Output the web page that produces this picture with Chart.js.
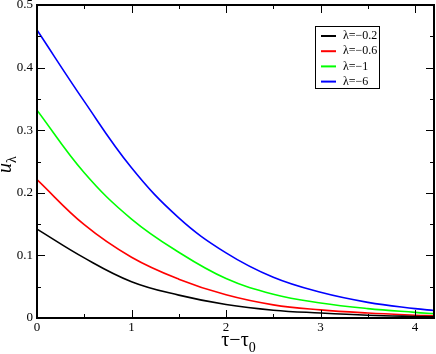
<!DOCTYPE html>
<html>
<head>
<meta charset="utf-8">
<script src="https://cdn.jsdelivr.net/npm/chart.js@4"></script>
<style>
  html, body { margin: 0; padding: 0; background: #fff; }
  #wrap { width: 436px; height: 354px; }
</style>
</head>
<body>
<div id="wrap"><canvas id="uChart" width="436" height="354"></canvas></div>
<script>
// values
const tValues = [0, 0.5, 1, 1.5, 2, 2.5, 3, 3.5, 4, 4.2];
const uLam02 = [0.142, 0.096, 0.058, 0.0365, 0.0215, 0.0125, 0.008, 0.0045, 0.0025, 0.002];
const uLam06 = [0.221, 0.149, 0.097, 0.062, 0.037, 0.021, 0.013, 0.008, 0.0045, 0.0035];
const uLam1 = [0.332, 0.232, 0.158, 0.105, 0.063, 0.038, 0.024, 0.015, 0.009, 0.007];
const uLam6 = [0.460, 0.346, 0.240, 0.160, 0.104, 0.065, 0.041, 0.025, 0.015, 0.012];
const seriesLabels = ['λ=−0.2', 'λ=−0.6', 'λ=−1', 'λ=−6'];
const seriesColors = ['#000000', '#ff0000', '#00ff00', '#0000ff'];
const xTicks = [0, 1, 2, 3, 4];
const yTicks = [0, 0.1, 0.2, 0.3, 0.4, 0.5];

const serif = '"Liberation Serif", "DejaVu Serif", serif';

function pts(ys) {
  return tValues.map((t, i) => ({ x: t, y: ys[i] }));
}

const seriesData = [uLam02, uLam06, uLam1, uLam6];

// frame, inward ticks (mirrored), legend box, axis titles
const decor = {
  id: 'decor',
  afterDraw(chart) {
    const c = chart.ctx;
    const a = chart.chartArea;
    const xs = chart.scales.x, ys = chart.scales.y;
    c.save();
    c.strokeStyle = '#000';
    c.lineWidth = 1;
    // x ticks: major every 1, minor every 0.5
    for (let v = 0; v <= 4.2 + 1e-9; v += 0.5) {
      const px = Math.round(xs.getPixelForValue(v)) + 0.5;
      const len = Math.abs(v - Math.round(v)) < 1e-9 ? 8 : 4;
      c.beginPath();
      c.moveTo(px, a.bottom); c.lineTo(px, a.bottom - len);
      c.moveTo(px, a.top); c.lineTo(px, a.top + len);
      c.stroke();
    }
    // y ticks: major every 0.1, minor every 0.05
    for (let k = 0; k <= 10; k++) {
      const v = k * 0.05;
      const py = Math.round(ys.getPixelForValue(v)) + 0.5;
      const len = k % 2 === 0 ? 8 : 4;
      c.beginPath();
      c.moveTo(a.left, py); c.lineTo(a.left + len, py);
      c.moveTo(a.right, py); c.lineTo(a.right - len, py);
      c.stroke();
    }
    // frame
    c.lineWidth = 2;
    c.strokeRect(a.left, a.top, a.right - a.left, a.bottom - a.top);

    // legend
    const lx = 315, ly = 26, lw = 64, lh = 62;
    c.lineWidth = 1;
    c.fillStyle = '#fff';
    c.fillRect(lx, ly, lw, lh);
    c.strokeStyle = '#000';
    c.strokeRect(lx + 0.5, ly + 0.5, lw, lh);
    c.font = '12px ' + serif;
    c.textBaseline = 'middle';
    c.textAlign = 'left';
    chart.data.datasets.forEach((ds, i) => {
      const yy = ly + 10 + i * 15.2;
      c.strokeStyle = ds.borderColor;
      c.lineWidth = 2;
      c.beginPath();
      c.moveTo(lx + 6, yy); c.lineTo(lx + 21, yy);
      c.stroke();
      c.fillStyle = '#000';
      c.fillText(ds.label, lx + 28, yy);
    });

    // x axis title: τ−τ0
    c.fillStyle = '#000';
    c.textBaseline = 'alphabetic';
    c.font = '20px ' + serif;
    const main = 'τ−τ';
    const mw = c.measureText(main).width;
    c.font = '14px ' + serif;
    const sw = c.measureText('0').width;
    const x0 = (a.left + a.right) / 2 + 3 - (mw + sw) / 2;
    c.font = '20px ' + serif;
    c.fillText(main, x0, 346);
    c.font = '14px ' + serif;
    c.fillText('0', x0 + mw, 352);

    // y axis title: u_λ
    c.translate(11, 173);
    c.rotate(-Math.PI / 2);
    c.font = 'italic 20px ' + serif;
    c.fillText('u', 0, 0);
    const uw = c.measureText('u').width;
    c.font = '14px ' + serif;
    c.fillText('λ', uw, 5);
    c.restore();
  }
};

const ctx = document.getElementById('uChart').getContext('2d');

const uChart = new Chart(ctx, {
  type: 'line',
  data: {
    datasets: seriesData.map((ys, i) => ({
      label: seriesLabels[i],
      data: pts(ys),
      borderColor: seriesColors[i],
      backgroundColor: seriesColors[i],
      borderWidth: 1.6,
      pointRadius: 0,
      fill: false,
      tension: 0.4
    }))
  },
  options: {
    responsive: false,
    animation: false,
    layout: { padding: { top: 5, right: 2, left: 0, bottom: 0 } },
    plugins: {
      legend: { display: false },
      tooltip: { enabled: false }
    },
    scales: {
      x: {
        type: 'linear',
        min: 0,
        max: 4.2,
        afterFit: s => {
          s.height = 36;
          s.paddingLeft = 0;
          s.paddingRight = 0;
        },
        afterBuildTicks: s => { s.ticks = xTicks.map(v => ({ value: v })); },
        grid: { display: false, drawTicks: false },
        border: { display: false },
        ticks: {
          color: '#000',
          padding: 2,
          maxRotation: 0,
          font: { family: serif, size: 13 },
          callback: v => String(v)
        }
      },
      y: {
        min: 0,
        max: 0.5,
        afterFit: s => {
          s.width = 37;
          s.paddingTop = 0;
          s.paddingBottom = 0;
        },
        afterBuildTicks: s => { s.ticks = yTicks.map(v => ({ value: v })); },
        grid: { display: false, drawTicks: false },
        border: { display: false },
        ticks: {
          color: '#000',
          padding: 4,
          font: { family: serif, size: 13 },
          callback: v => String(Math.round(v * 10) / 10)
        }
      }
    }
  },
  plugins: [decor]
});
</script>
</body>
</html>
